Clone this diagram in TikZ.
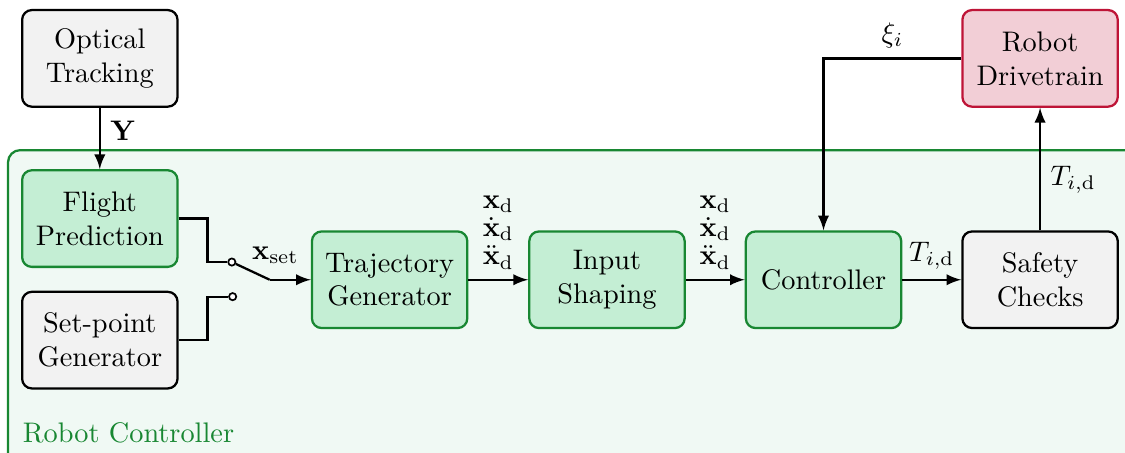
\documentclass[tikz,border=0pt]{standalone}
\usepackage{amsmath}
\usepackage{amssymb,amsbsy}
\usetikzlibrary{arrows,positioning,backgrounds}
\definecolor{ctrlgreen}{RGB}{24,135,50}
\definecolor{ctrlfill}{RGB}{240,249,244}
\definecolor{blockgreen}{RGB}{196,238,212}
\definecolor{blockgray}{RGB}{242,242,242}
\definecolor{drivered}{RGB}{190,20,55}
\definecolor{drivefill}{RGB}{242,206,214}
\tikzset{block/.style={draw=black, fill=blockgray, rounded corners=0.12cm, thick, minimum width=1.93cm, minimum height=1.2cm, align=center},
gblock/.style={block, draw=ctrlgreen, fill=blockgreen},
rblock/.style={block, draw=drivered, fill=drivefill},
%switch contacts
contact/.style={circle, draw=black, fill=white, inner sep=0pt, minimum size=0.9mm, semithick}}

\begin{document}
\begin{tikzpicture}[>=latex, thick]
\useasboundingbox (0,0) rectangle (13.975,5.615);

\draw[ctrlgreen, fill=ctrlfill, rounded corners=0.15cm] (0.1,-0.3) rectangle (14.3,3.75);
\node[anchor=south west, text=ctrlgreen, inner sep=0pt] (ctrllabel) at (0.27,0.1) {Robot Controller};

\node[block] (opt) at (1.24,4.89) {Optical\\Tracking};
\node[gblock] (flight) at (1.24,2.90) {Flight\\Prediction};
\node[block] (setp) at (1.24,1.39) {Set-point\\Generator};
\node[gblock] (traj) at (4.84,2.14) {Trajectory\\Generator};
\node[gblock] (shape) at (7.54,2.14) {Input\\Shaping};
\node[gblock] (ctrl) at (10.23,2.14) {Controller};
\node[block] (safety) at (12.92,2.14) {Safety\\Checks};
\node[rblock] (drive) at (safety |- opt) {Robot\\Drivetrain};

% switch
\node[contact] (swa) at (2.88,2.36) {};
\node[contact] (swb) at (2.89,1.93) {};
\coordinate (lever) at (3.35,2.14);

\draw[->] (opt) -- (flight) node[pos=0.37, right] {$\mathbf{Y}$};
\draw (flight.east) -- ++(0.36,0) |- (swa);
\draw (setp.east) -- ++(0.36,0) |- (swb);
\draw (swa) -- (lever);
\draw[->] (lever) -- (traj) node[pos=0, above, xshift=2pt, yshift=2pt] {$\mathbf{x}_\mathrm{set}$};

\draw[->] (traj) -- (shape) node[midway, above, align=center] {$\mathbf{x}_\mathrm{d}$\\[-2pt]$\dot{\mathbf{x}}_\mathrm{d}$\\[-2pt]$\ddot{\mathbf{x}}_\mathrm{d}$};
\draw[->] (shape) -- (ctrl) node[midway, above, align=center] {$\mathbf{x}_\mathrm{d}$\\[-2pt]$\dot{\mathbf{x}}_\mathrm{d}$\\[-2pt]$\ddot{\mathbf{x}}_\mathrm{d}$};
\draw[->] (ctrl) -- (safety) node[midway, above] {$T_{i,\mathrm{d}}$};
\draw[->] (safety) -- (drive) node[pos=0.41, right] {$T_{i,\mathrm{d}}$};
\draw[->] (drive.west) -| (ctrl.north) node[pos=0.25, above] {$\xi_i$};

\end{tikzpicture}
\end{document}
